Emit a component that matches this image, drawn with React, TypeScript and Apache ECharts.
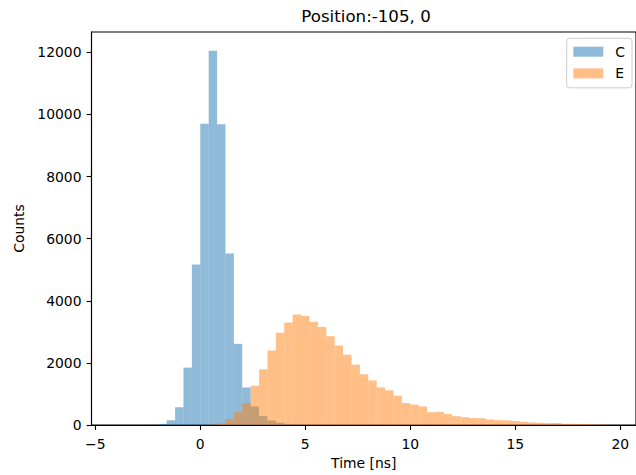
import { useEffect, useRef } from "react";
import * as echarts from "echarts";

// Histogram bins: left edges start at BIN_START, each BIN_WIDTH wide
const BIN_START = -4.0;
const BIN_WIDTH = 0.4;

// Counts per bin (bins from -4.0 to 19.6 ns)
const C_COUNTS = [
  0, 0, 0, 0, 5, 40, 155, 575, 1850, 5170,
  9700, 12050, 9680, 5520, 2615, 1210, 600, 290, 150, 75,
  40, 22, 12, 6, 3, 2, 1, 1, 0, 0,
  0, 0, 0, 0, 0, 0, 0, 0, 0, 0,
  0, 0, 0, 0, 0, 0, 0, 0, 0, 0,
  0, 0, 0, 0, 0, 0, 0, 0, 0,
];
const E_COUNTS = [
  0, 0, 0, 0, 0, 0, 0, 0, 0, 0,
  5, 15, 55, 190, 415, 700, 1265, 1795, 2400, 2975,
  3305, 3560, 3510, 3330, 3160, 2860, 2560, 2265, 1945, 1637,
  1435, 1212, 1117, 947, 712, 660, 600, 415, 425, 355,
  287, 255, 225, 220, 180, 160, 150, 128, 106, 85,
  75, 64, 64, 43, 43, 32, 32, 20, 10,
];

const SERIES_NAMES = ["C", "E"];
const X_TICKS = [-5, 0, 5, 10, 15, 20];
const Y_TICKS = [0, 2000, 4000, 6000, 8000, 10000, 12000];
const TITLE = "Position:-105, 0";
const X_LABEL = "Time [ns]";
const Y_LABEL = "Counts";

const FONT = "DejaVu Sans";

function toBins(counts: number[]) {
  return counts.map((c, i) => {
    const x0 = BIN_START + i * BIN_WIDTH;
    return [x0, x0 + BIN_WIDTH, c];
  });
}

function makeRender(color: string) {
  return (params: any, api: any) => {
    const x0 = api.value(0);
    const x1 = api.value(1);
    const v = api.value(2);
    if (!v) return null;
    const p0 = api.coord([x0, v]);
    const p1 = api.coord([x1, 0]);
    return {
      type: "rect",
      shape: { x: p0[0], y: p0[1], width: p1[0] - p0[0], height: p1[1] - p0[1] },
      style: { fill: color, opacity: 0.5 },
    };
  };
}

export default function App() {
  const ref = useRef<HTMLDivElement>(null);
  useEffect(() => {
    document.body.style.margin = "0";
    const chart = echarts.init(ref.current!, null, { renderer: "svg" });
    const fmt = (v: number) => (v < 0 ? "\u2212" + Math.abs(v) : String(v));
    chart.setOption({
      animation: false,
      grid: {
        left: 91.5,
        top: 32,
        width: 548.8,
        height: 397,
        show: true,
        borderColor: "#000",
        borderWidth: 1.1,
        backgroundColor: "transparent",
      },
      graphic: [
        {
          type: "text",
          x: 366,
          y: 16.5,
          style: {
            text: TITLE,
            fontFamily: FONT,
            fontSize: 16.67,
            fill: "#000",
            align: "center",
            verticalAlign: "middle",
          },
        },
      ],
      xAxis: {
        type: "value",
        min: -5.18,
        max: 20.75,
        name: X_LABEL,
        nameLocation: "middle",
        nameGap: 29,
        nameTextStyle: { fontFamily: FONT, fontSize: 13.9, color: "#000" },
        axisLine: { show: true, onZero: false, lineStyle: { color: "#000", width: 1.1 } },
        axisTick: {
          show: true,
          length: 4.9,
          customValues: X_TICKS,
          lineStyle: { color: "#000", width: 1.1 },
        },
        axisLabel: {
          customValues: X_TICKS,
          margin: 12,
          fontFamily: FONT,
          fontSize: 13.9,
          color: "#000",
          formatter: fmt,
        },
        splitLine: { show: false },
      },
      yAxis: {
        type: "value",
        min: 0,
        max: 12651,
        name: Y_LABEL,
        nameLocation: "middle",
        nameGap: 66,
        nameRotate: 90,
        nameTextStyle: { fontFamily: FONT, fontSize: 13.9, color: "#000" },
        axisLine: { show: true, onZero: false, lineStyle: { color: "#000", width: 1.1 } },
        axisTick: {
          show: true,
          length: 4.9,
          customValues: Y_TICKS,
          lineStyle: { color: "#000", width: 1.1 },
        },
        axisLabel: {
          customValues: Y_TICKS,
          margin: 10,
          fontFamily: FONT,
          fontSize: 13.9,
          color: "#000",
          formatter: fmt,
        },
        splitLine: { show: false },
      },
      legend: {
        orient: "vertical",
        left: 566.7,
        top: 38.3,
        padding: [5.4, 7, 6.4, 6.6],
        itemWidth: 30,
        itemHeight: 10,
        itemGap: 5.7,
        icon: "rect",
        borderColor: "#cccccc",
        borderWidth: 1,
        borderRadius: 3,
        backgroundColor: "rgba(255,255,255,0.8)",
        textStyle: {
          fontFamily: FONT,
          fontSize: 13.9,
          color: "#000",
          lineHeight: 16,
          padding: [0, 0, 0, 7],
        },
        data: [
          { name: SERIES_NAMES[0], itemStyle: { color: "#8fbbd9", opacity: 1 } },
          { name: SERIES_NAMES[1], itemStyle: { color: "#ffbf86", opacity: 1 } },
        ],
        z: 10,
      },
      series: [
        {
          name: SERIES_NAMES[0],
          type: "custom",
          renderItem: makeRender("#1f77b4"),
          itemStyle: { color: "#8fbbd9" },
          encode: { x: [0, 1], y: 2 },
          data: toBins(C_COUNTS),
          clip: true,
        },
        {
          name: SERIES_NAMES[1],
          type: "custom",
          renderItem: makeRender("#ff7f0e"),
          itemStyle: { color: "#ffbf86" },
          encode: { x: [0, 1], y: 2 },
          data: toBins(E_COUNTS),
          clip: true,
        },
      ],
    });
    return () => chart.dispose();
  }, []);
  return <div ref={ref} style={{ width: 636, height: 475 }} />;
}
